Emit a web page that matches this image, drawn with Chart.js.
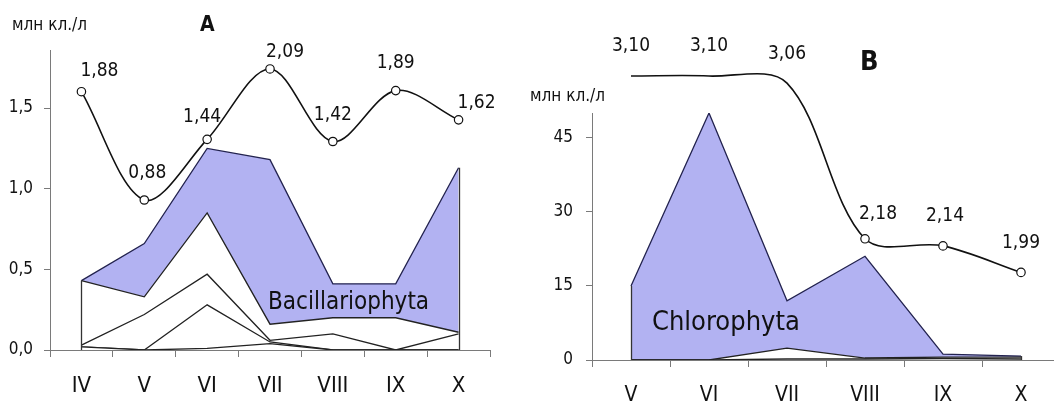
<!DOCTYPE html>
<html><head><meta charset="utf-8">
<script src="https://cdn.jsdelivr.net/npm/chart.js@4.4.1/dist/chart.umd.min.js"></script>
<style>
html,body{margin:0;padding:0;background:#fff;overflow:hidden;width:1054px;height:404px;}
#wrap{position:relative;width:1054px;height:404px;overflow:hidden;background:#fff;}
canvas{position:absolute;top:0;}
#cA{left:0;}
#cB{left:520px;}
.txt{position:absolute;white-space:nowrap;color:#111;line-height:1;}
</style></head><body>
<div id="wrap">
<canvas id="cA" width="520" height="404"></canvas>
<canvas id="cB" width="560" height="404"></canvas>
<div class="txt" id="uA" style="left:12px;top:16px;font-size:17px;">млн кл./л</div>
<div class="txt" id="tA" style="left:200px;top:14px;font-size:21px;font-weight:bold;">A</div>
<div class="txt" id="uB" style="left:530px;top:87px;font-size:17px;">млн кл./л</div>
<div class="txt" id="tB" style="left:860px;top:47px;font-size:27px;font-weight:bold;">B</div>
<div class="txt" id="nA" style="left:268px;top:289px;font-size:24px;">Bacillariophyta</div>
<div class="txt" id="nB" style="left:652px;top:307px;font-size:27px;">Chlorophyta</div>
</div>
<script>
// ---------- data: panel A ----------
const monthsA = ['IV','V','VI','VII','VIII','IX','X'];
const otherA1 = [0.02,0.00,0.01,0.04,0.00,0.00,0.00];
const otherA2 = [0.00,0.00,0.27,0.01,0.00,0.00,0.00];
const otherA3 = [0.01,0.22,0.19,0.01,0.10,0.00,0.10];
const otherA4 = [0.40,0.11,0.38,0.10,0.10,0.20,0.01];
const bacillA = [0.00,0.33,0.40,1.02,0.21,0.21,1.02];
const indexA  = [1.88,0.88,1.44,2.09,1.42,1.89,1.62];
const yTicksA = [0,0.5,1.0,1.5];
// ---------- data: panel B ----------
const monthsB = ['V','VI','VII','VIII','IX','X'];
const otherB1 = [0,0,0.2,0.2,0.3,0.2];
const otherB2 = [0,0,2.2,0.2,0.3,0.4];
const chloroB = [15,50,9.6,20.6,0.6,0.2];
const indexB  = [3.10,3.10,3.06,2.18,2.14,1.99];
const yTicksB = [0,15,30,45];

// label placement (layout only)
const labelOffA = [[18,-21],[3,-27],[-5,-22],[15,-17],[0,-26],[0,-28],[18,-17]];
const labelOffB = [[0,-30],[0,-30],[0,-29],[13,-25],[2,-30],[0,-29]];

function hasFont(name){
  const c=document.createElement('canvas').getContext('2d');
  const s='mmmmmmmmmmlliWWW1234,.';
  let r=false;
  ['monospace','serif'].forEach(f=>{
    c.font='40px '+f; const a=c.measureText(s).width;
    c.font='40px "'+name+'", '+f; const b=c.measureText(s).width;
    if(a!==b) r=true;
  });
  return r;
}
const candidates=['Liberation Sans Narrow','Arial Narrow','DejaVu Sans Condensed','Liberation Sans','Arial'];
let FONT='sans-serif';
for(const f of candidates){ if(hasFont(f)){ FONT='"'+f+'"'; break; } }
FONT += ', "Liberation Sans", Arial, sans-serif';
document.querySelectorAll('.txt').forEach(e=>e.style.fontFamily=FONT);

Chart.defaults.font.family = FONT;
Chart.defaults.color = '#111';

const PURPLE = 'rgb(178,178,242)';
const fmt = v => v.toFixed(2).replace('.',',');

function area(data, fill, bg, border){
  return {data, fill, backgroundColor:bg, borderColor:border||'#222', borderWidth:1.3,
    pointRadius:0, tension:0, order:1, yAxisID:'y'};
}
function indexLine(data, offs){
  return {data, yAxisID:'y2', order:0, fill:false, clip:false, tension:0.33,
    borderColor:'#111', borderWidth:1.6, pointRadius:4.2, pointBackgroundColor:'#fff',
    pointBorderColor:'#111', pointBorderWidth:1.2, labelOffsets:offs, valueLabels:true};
}

const labelPlugin = {
  id:'valLabels',
  afterDatasetsDraw(chart){
    const ctx=chart.ctx;
    chart.data.datasets.forEach((ds,i)=>{
      if(!ds.valueLabels) return;
      const meta=chart.getDatasetMeta(i);
      ctx.save();
      ctx.font='19px '+FONT; ctx.fillStyle='#111';
      ctx.textAlign='center'; ctx.textBaseline='middle';
      meta.data.forEach((p,j)=>{
        const o=ds.labelOffsets[j];
        ctx.fillText(fmt(ds.data[j]), p.x+o[0], p.y+o[1]);
      });
      ctx.restore();
    });
  }
};
const edgePlugin = {
  id:'edges',
  afterDatasetsDraw(chart){
    const ctx=chart.ctx;
    let top=-1;
    chart.data.datasets.forEach((ds,i)=>{ if(ds.yAxisID==='y') top=i; });
    const meta=chart.getDatasetMeta(top);
    const y0=chart.scales.y.getPixelForValue(0);
    const pts=[meta.data[0], meta.data[meta.data.length-1]];
    ctx.save(); ctx.strokeStyle='#333'; ctx.lineWidth=1.3;
    pts.forEach(p=>{ ctx.beginPath(); ctx.moveTo(Math.round(p.x)+0.5,y0); ctx.lineTo(Math.round(p.x)+0.5,p.y); ctx.stroke(); });
    ctx.restore();
  }
};

function baseOptions(o){
  return {
    responsive:false, animation:false, devicePixelRatio:1,
    layout:{padding:o.padding},
    plugins:{legend:{display:false}, tooltip:{enabled:false}},
    elements:{line:{capBezierPoints:false}},
    scales:{
      x:{type:'category', offset:true,
         grid:{offset:true, drawOnChartArea:false, drawTicks:true, tickLength:7, color:'#7a7a7a', lineWidth:1},
         border:{color:'#7a7a7a', width:1},
         ticks:{font:{size:o.xFont}, color:'#111', padding:o.xPad, maxRotation:0, autoSkip:false},
         afterFit(s){ s.height=o.xHeight; }},
      y:{stacked:true, min:0, max:o.yMax,
         afterBuildTicks(s){ s.ticks=o.yTicks.map(v=>({value:v})); },
         ticks:{callback:o.yFmt, font:{size:17}, color:'#111', padding:o.yPad},
         grid:{drawOnChartArea:false, tickLength:6, color:'#7a7a7a'},
         border:{color:'#7a7a7a', width:1},
         afterFit(s){ s.width=o.yWidth; }},
      y2:{display:false, min:o.y2Min, max:o.y2Max}
    }
  };
}

new Chart(document.getElementById('cA'), {
  type:'line',
  data:{labels:monthsA, datasets:[
    indexLine(indexA, labelOffA),
    area(otherA1,'origin','#fff'),
    area(otherA2,'-1','#fff'),
    area(otherA3,'-1','#fff'),
    area(otherA4,'-1','#fff'),
    area(bacillA,'-1',PURPLE,'#23234f')
  ]},
  options:baseOptions({padding:{left:0,right:30,top:50,bottom:0}, xFont:22, xPad:16, xHeight:54,
    yMax:1.86, yTicks:yTicksA, yFmt:v=>v.toFixed(1).replace('.',','), yPad:11, yWidth:50,
    y2Min:-0.505, y2Max:2.265}),
  plugins:[edgePlugin, labelPlugin]
});

new Chart(document.getElementById('cB'), {
  type:'line',
  data:{labels:monthsB, datasets:[
    indexLine(indexB, labelOffB),
    area(otherB1,'origin','#fff'),
    area(otherB2,'-1','#fff'),
    area(chloroB,'-1',PURPLE,'#23234f')
  ]},
  options:baseOptions({padding:{left:0,right:20,top:113,bottom:0}, xFont:21, xPad:16, xHeight:44,
    yMax:50, yTicks:yTicksB, yFmt:v=>String(v), yPad:13, yWidth:72,
    y2Min:1.495, y2Max:2.891}),
  plugins:[edgePlugin, labelPlugin]
});
</script>
</body></html>
